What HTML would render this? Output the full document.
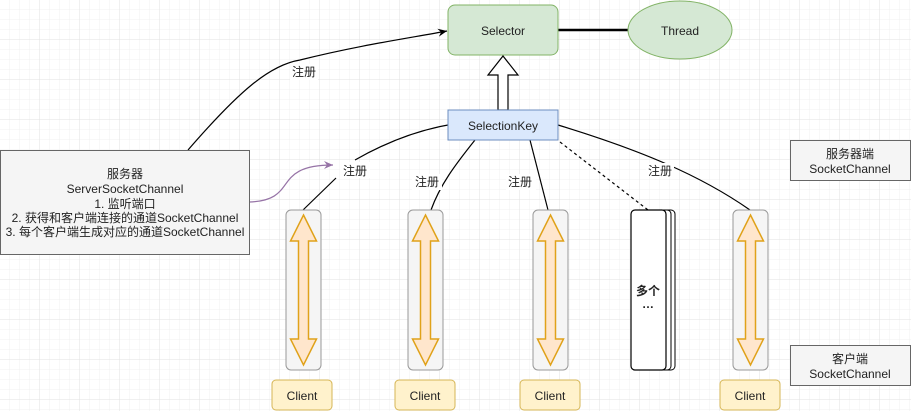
<!DOCTYPE html>
<html><head><meta charset="utf-8"><style>
body{margin:0;width:911px;height:411px;overflow:hidden;background:#fff;font-family:"Liberation Sans","Noto Sans CJK SC",sans-serif;}
svg text{font-family:"Liberation Sans","Noto Sans CJK SC",sans-serif;font-size:12px;fill:#222;}
</style></head><body>
<svg width="911" height="411" xmlns="http://www.w3.org/2000/svg">
<defs>
<pattern id="g1" width="10" height="10" patternUnits="userSpaceOnUse"><path d="M10 0V10H0" fill="none" stroke="#f0f0f0" stroke-width="1"/></pattern>
<pattern id="g2" width="40" height="40" patternUnits="userSpaceOnUse"><rect width="40" height="40" fill="url(#g1)"/><path d="M40 0V40H0" fill="none" stroke="#e2e2e2" stroke-width="1"/></pattern>
<marker id="ah" markerWidth="10" markerHeight="10" refX="9" refY="5" orient="auto" markerUnits="userSpaceOnUse"><path d="M0,1 L9,5 L0,9 L3,5z" fill="#000"/></marker>
<marker id="ap" markerWidth="10" markerHeight="10" refX="9" refY="5" orient="auto" markerUnits="userSpaceOnUse"><path d="M0,1 L9,5 L0,9 L3,5z" fill="#9673a6"/></marker>
<g id="da"><path d="M0,-75 L13,-49 L5,-49 L5,49 L13,49 L0,75 L-13,49 L-5,49 L-5,-49 L-13,-49z" fill="#ffe6cc" stroke="#e0a21a" stroke-width="1.5"/></g>
</defs>
<rect width="911" height="411" fill="url(#g2)"/>
<!-- connectors -->
<path d="M188,150 C240,90 270,65 300,60 C360,45 410,38 447,31" fill="none" stroke="#000" stroke-width="1.2" marker-end="url(#ah)"/>
<path d="M250,202 C300,200 270,165 333,165" fill="none" stroke="#9673a6" stroke-width="1.2" marker-end="url(#ap)"/>
<path d="M355,160 C390,140 420,130 448,125" fill="none" stroke="#000" stroke-width="1.2"/>
<path d="M336,178 L303,210" fill="none" stroke="#000" stroke-width="1.2"/>
<path d="M475,140 C455,165 440,185 431,210" fill="none" stroke="#000" stroke-width="1.2"/>
<path d="M530,140 L548,210" fill="none" stroke="#000" stroke-width="1.2"/>
<path d="M560,142 L648,210" fill="none" stroke="#000" stroke-width="1.2" stroke-dasharray="3,3"/>
<path d="M558,125 C640,150 700,175 750,210" fill="none" stroke="#000" stroke-width="1.2"/>
<line x1="558" y1="30" x2="628" y2="30" stroke="#000" stroke-width="2.5"/>
<!-- labels -->
<rect x="290" y="64" width="28" height="16" fill="#fff"/><text x="292" y="76">注册</text>
<rect x="340" y="162" width="30" height="16" fill="#fff"/><text x="343" y="175">注册</text>
<rect x="412" y="174" width="30" height="16" fill="#fff"/><text x="415" y="186">注册</text>
<rect x="506" y="174" width="30" height="16" fill="#fff"/><text x="508" y="186">注册</text>
<rect x="646" y="163" width="28" height="14" fill="#fff"/><text x="648" y="175">注册</text>
<!-- selector -->
<rect x="448" y="5" width="110" height="50" rx="7" fill="#d5e8d4" stroke="#82b366"/>
<text x="503" y="35" text-anchor="middle">Selector</text>
<ellipse cx="680" cy="30" rx="52" ry="29" fill="#d5e8d4" stroke="#82b366"/>
<text x="680" y="35" text-anchor="middle">Thread</text>
<path d="M498,110 L498,75 L488,75 L503,56 L518,75 L508,75 L508,110z" fill="#fff" stroke="#000" stroke-width="1.2"/>
<rect x="448" y="110" width="110" height="30" fill="#dae8fc" stroke="#6c8ebf"/>
<text x="503" y="130" text-anchor="middle">SelectionKey</text>
<!-- server -->
<rect x="0.5" y="150.5" width="249" height="104" fill="#f5f5f5" stroke="#666"/>
<text x="125" y="178" text-anchor="middle">服务器</text>
<text x="125" y="193" text-anchor="middle">ServerSocketChannel</text>
<text x="125" y="208" text-anchor="middle">1. 监听端口</text>
<text x="125" y="222" text-anchor="middle">2. 获得和客户端连接的通道SocketChannel</text>
<text x="125" y="236" text-anchor="middle">3. 每个客户端生成对应的通道SocketChannel</text>
<!-- channels -->
<g stroke="#999" fill="#f5f5f5">
<rect x="286" y="210" width="35" height="160" rx="5"/>
<rect x="408" y="210" width="35" height="160" rx="5"/>
<rect x="533" y="210" width="35" height="160" rx="5"/>
<rect x="733" y="210" width="35" height="160" rx="5"/>
</g>
<use href="#da" x="303.5" y="290"/>
<use href="#da" x="425.5" y="290"/>
<use href="#da" x="550.5" y="290"/>
<use href="#da" x="750.5" y="290"/>
<rect x="640" y="210" width="35" height="160" rx="4" fill="#fff" stroke="#000"/>
<rect x="636" y="210" width="35" height="160" rx="4" fill="#fff" stroke="#000"/>
<rect x="631" y="210" width="35" height="160" rx="4" fill="#fff" stroke="#000" stroke-width="1.2"/>
<text x="648" y="295" text-anchor="middle" font-weight="bold">多个</text>
<text x="648" y="308" text-anchor="middle" font-weight="bold">…</text>
<!-- clients -->
<g fill="#fff2cc" stroke="#d6b656">
<rect x="272" y="380" width="60" height="30" rx="4"/>
<rect x="395" y="380" width="60" height="30" rx="4"/>
<rect x="520" y="380" width="60" height="30" rx="4"/>
<rect x="720" y="380" width="60" height="30" rx="4"/>
</g>
<text x="302" y="400" text-anchor="middle">Client</text>
<text x="425" y="400" text-anchor="middle">Client</text>
<text x="550" y="400" text-anchor="middle">Client</text>
<text x="750" y="400" text-anchor="middle">Client</text>
<!-- right labels -->
<rect x="790.5" y="140.5" width="120" height="40" fill="#f5f5f5" stroke="#666"/>
<text x="850" y="158" text-anchor="middle">服务器端</text>
<text x="850" y="173" text-anchor="middle">SocketChannel</text>
<rect x="790.5" y="345.5" width="120" height="40" fill="#f5f5f5" stroke="#666"/>
<text x="850" y="363" text-anchor="middle">客户端</text>
<text x="850" y="378" text-anchor="middle">SocketChannel</text>
</svg>
</body></html>
